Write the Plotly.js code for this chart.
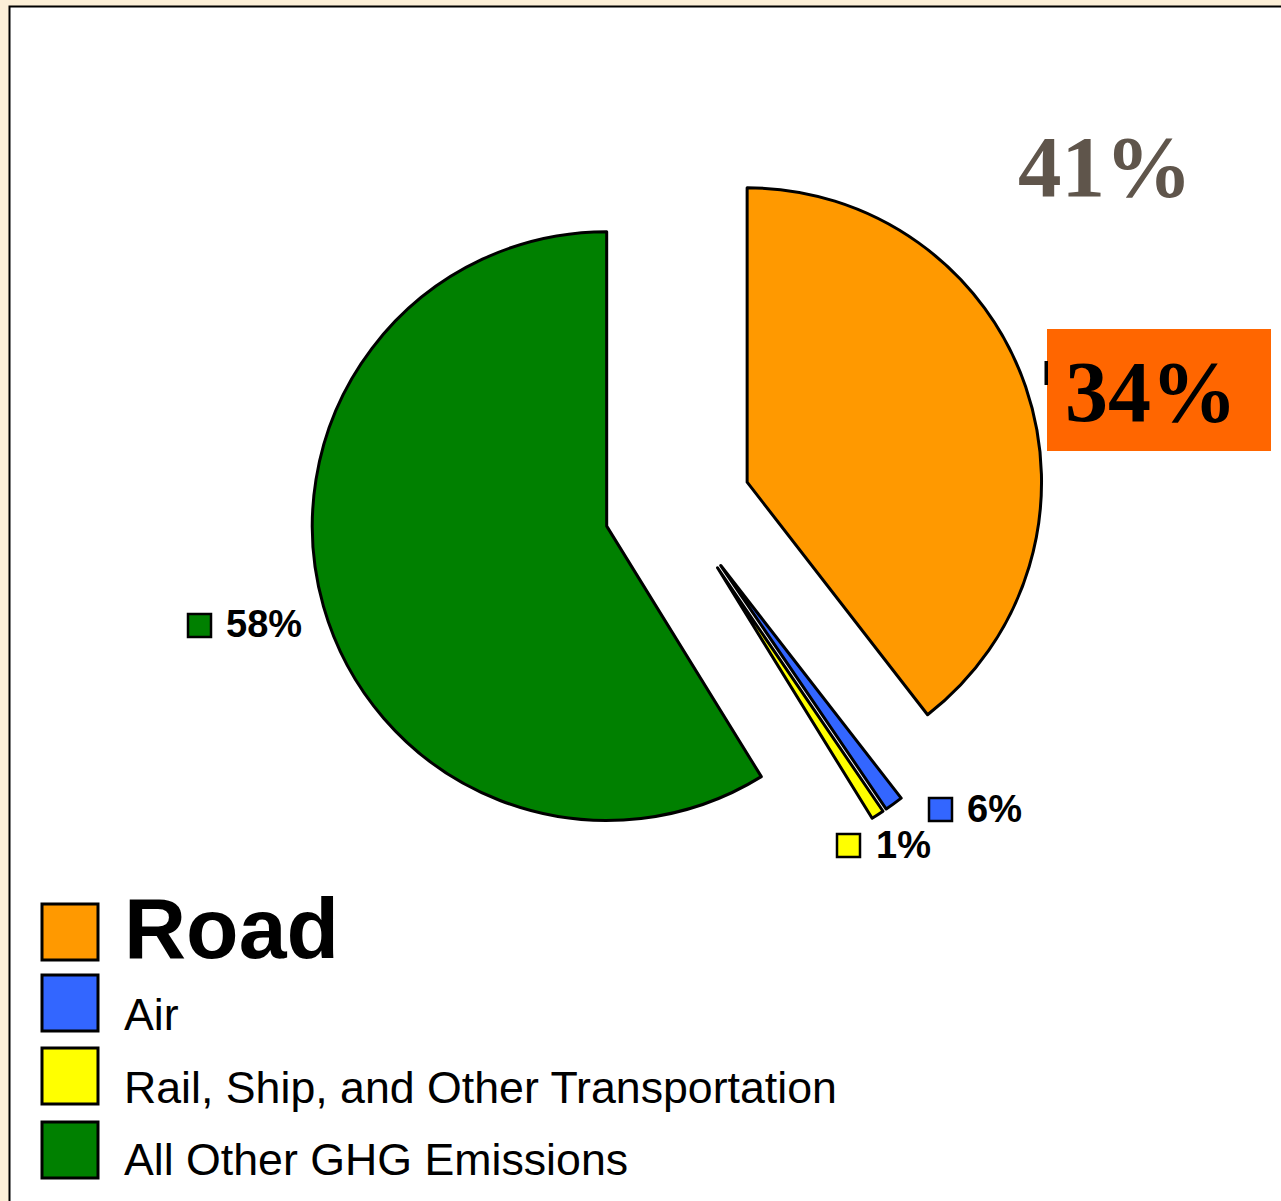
<!DOCTYPE html>
<html><head><meta charset="utf-8">
<script src="https://cdn.plot.ly/plotly-3.0.1.min.js"></script>
<style>html,body{margin:0;padding:0;background:#fcefd7;} #chart{width:1281px;height:1201px;}</style>
</head><body><div id="chart"></div>
<script>
// ---- data ----
const categories = ["Road", "Air", "Rail, Ship, and Other Transportation", "All Other GHG Emissions"];
const sliceValues = [39.5, 1.0, 0.7, 58.8];
const sliceColors = ["#FF9900", "#3366FF", "#FFFF00", "#008000"];
const slicePull = [0.25, 0.25, 0.25, 0.25];
const pointLabels = ["34%", "6%", "1%", "58%"];
const roadHeadline = "41%";

// ---- layout helpers (pixel -> paper) ----
const W = 1281, H = 1201;
const X = p => p / W;
const Y = p => 1 - p / H;
const SANS = "Liberation Sans, Arial, sans-serif";
const SERIF = "Liberation Serif, Times New Roman, serif";

const shapes = [];
const annotations = [];

// white page with black top/left rule
shapes.push({type:'rect', xref:'paper', yref:'paper', layer:'below',
  x0:X(9.5), x1:X(1300), y0:Y(6.5), y1:Y(1220),
  fillcolor:'#ffffff', line:{color:'#000000', width:2}});

// orange highlight box for road value
shapes.push({type:'rect', xref:'paper', yref:'paper',
  x0:X(1047), x1:X(1271), y0:Y(329), y1:Y(451),
  fillcolor:'#FF6600', line:{width:0}});
// tiny hidden key edge left of box
shapes.push({type:'rect', xref:'paper', yref:'paper',
  x0:X(1044.5), x1:X(1048), y0:Y(361), y1:Y(385),
  fillcolor:'#000000', line:{width:0}});

// headline value
annotations.push({xref:'paper', yref:'paper', x:X(1105), y:Y(167), xanchor:'center', yanchor:'middle',
  text:'<b>'+roadHeadline+'</b>', showarrow:false,
  font:{family:SERIF, size:87, color:'#5f554b'}});
annotations.push({xref:'paper', yref:'paper', x:X(1151), y:Y(392), xanchor:'center', yanchor:'middle',
  text:'<b>'+pointLabels[0]+'</b>', showarrow:false,
  font:{family:SERIF, size:86, color:'#000000'}});

// data labels with small keys (Air, Rail, Other)
const labelKeys = [null, {kx:929, ky:798, tx:966, ty:808.5}, {kx:837, ky:834, tx:875, ty:845}, {kx:188, ky:614, tx:225, ty:624}];
for (let i = 1; i < 4; i++) {
  const k = labelKeys[i];
  shapes.push({type:'rect', xref:'paper', yref:'paper',
    x0:X(k.kx), x1:X(k.kx+23), y0:Y(k.ky), y1:Y(k.ky+23),
    fillcolor:sliceColors[i], line:{color:'#000000', width:2.5}});
  annotations.push({xref:'paper', yref:'paper', x:X(k.tx), y:Y(k.ty), xanchor:'left', yanchor:'middle',
    text:'<b>'+pointLabels[i]+'</b>', showarrow:false, borderpad:0,
    font:{family:SANS, size:38, color:'#000000'}});
}

// legend
const legendRows = [{top:904, cy:928}, {top:975, cy:1014}, {top:1048, cy:1087}, {top:1122, cy:1159}];
categories.forEach((c, i) => {
  const r = legendRows[i];
  shapes.push({type:'rect', xref:'paper', yref:'paper',
    x0:X(42), x1:X(98), y0:Y(r.top), y1:Y(r.top+56),
    fillcolor:sliceColors[i], line:{color:'#000000', width:3}});
  annotations.push({xref:'paper', yref:'paper', x:X(123), y:Y(r.cy), xanchor:'left', yanchor:'middle',
    text: i === 0 ? '<b>'+c+'</b>' : c, showarrow:false, borderpad:0,
    font:{family:SANS, size: i === 0 ? 86 : 44.7, color:'#000000'}});
});

// pie box: centre (677.5, 506) px, side 736 px
const cxp = 677.5, cyp = 506, half = 368;
const trace = {
  type:'pie', values:sliceValues, labels:categories, sort:false,
  direction:'clockwise', rotation:0, pull:slicePull,
  marker:{colors:sliceColors, line:{color:'#000000', width:3}},
  textinfo:'none', hoverinfo:'none', showlegend:false,
  domain:{x:[X(cxp - half), X(cxp + half)], y:[Y(cyp + half), Y(cyp - half)]}
};

Plotly.newPlot('chart', [trace], {
  width:W, height:H, margin:{l:0, r:0, t:0, b:0},
  paper_bgcolor:'#fcefd7', showlegend:false,
  shapes:shapes, annotations:annotations
}, {staticPlot:true});
</script>
</body></html>
